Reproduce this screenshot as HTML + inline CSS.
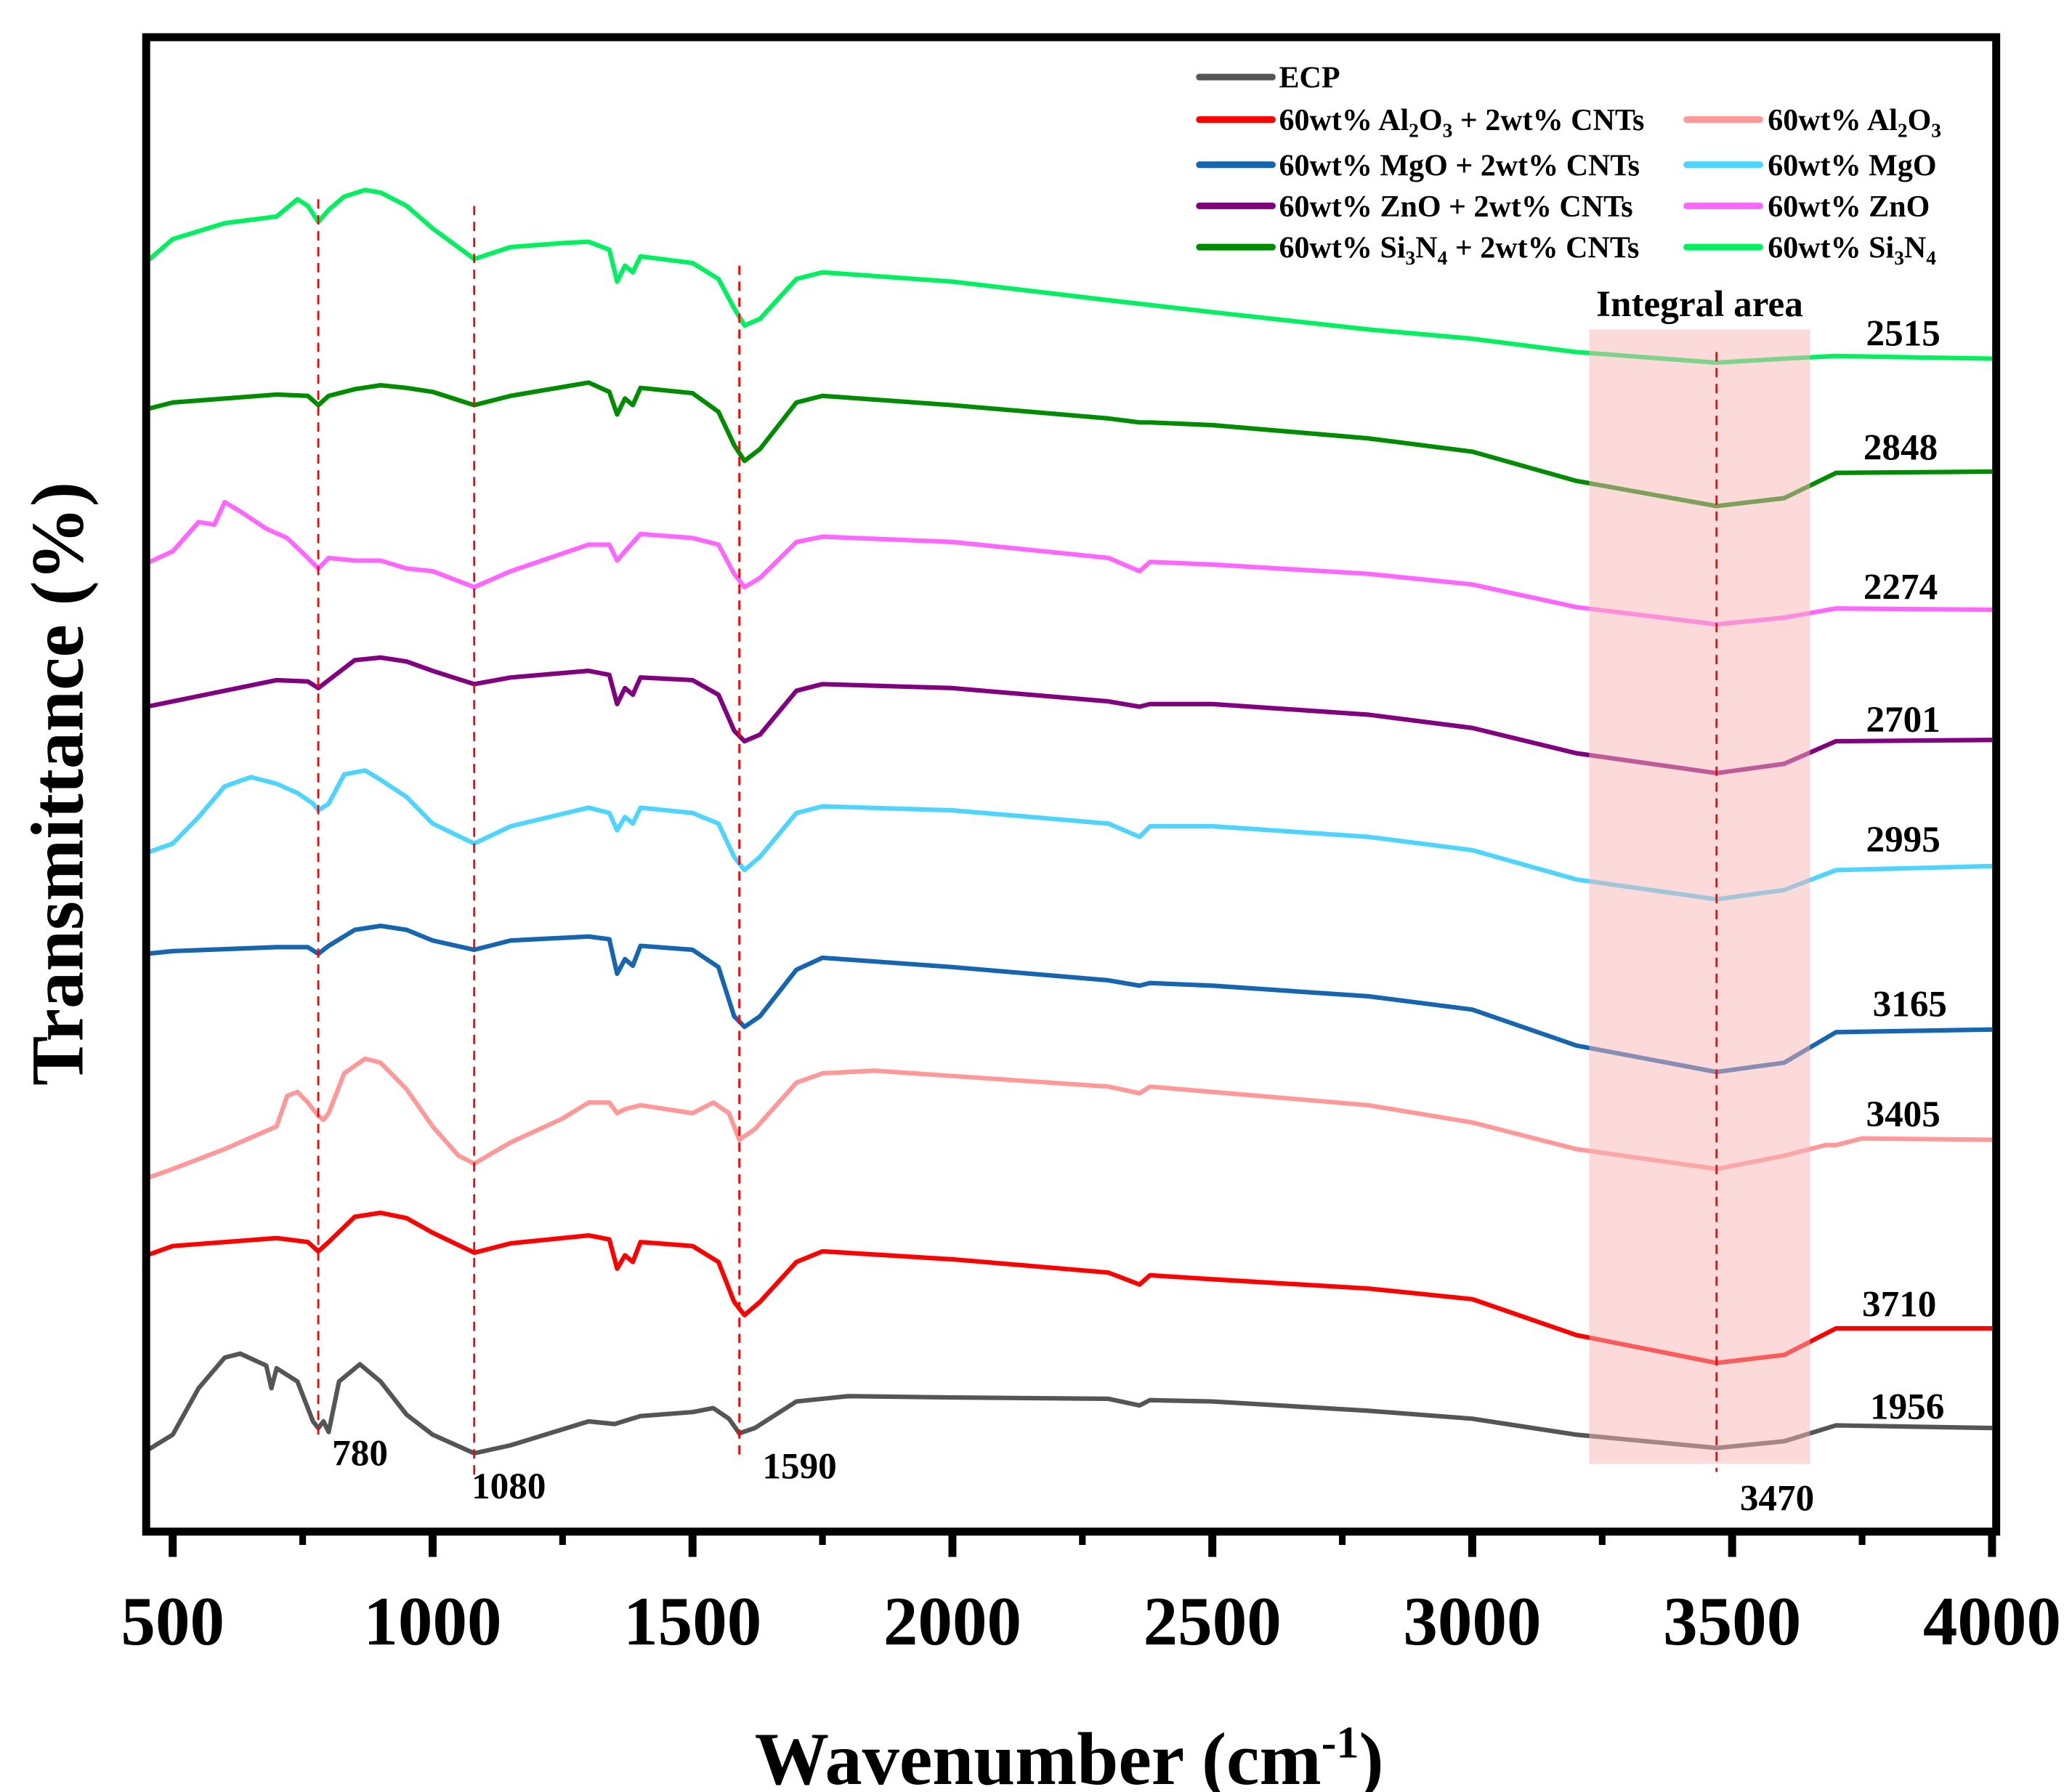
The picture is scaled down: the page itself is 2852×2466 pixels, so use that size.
<!DOCTYPE html>
<html><head><meta charset="utf-8"><style>
html,body{margin:0;padding:0;background:#fff}
svg{display:block}
text{font-family:"Liberation Serif",serif;font-weight:bold}
</style></head><body>
<svg id="chart" width="2852" height="2466" viewBox="0 0 1560 1349" xmlns="http://www.w3.org/2000/svg">
<g id="curves"></g>
<rect id="area" fill="#f9b5b5" fill-opacity="0.5"></rect>
<g id="dashes"></g>
<g id="labels"></g>
<rect x="110" y="28" width="1393" height="1125" fill="none" stroke="#000" stroke-width="6"/>
<g id="ticks"></g>
<text x="805" y="1343" text-anchor="middle" font-size="56">Wavenumber (cm<tspan dy="-20" font-size="34">-1</tspan><tspan dy="20">)</tspan></text>
<text transform="translate(62,590) rotate(-90)" text-anchor="middle" font-size="56">Transmittance (%)</text>
<g font-size="23">
<line x1="903" y1="58" x2="958" y2="58" stroke="#555" stroke-width="5" stroke-linecap="round"/><text x="963" y="66">ECP</text>
<line x1="903" y1="90" x2="958" y2="90" stroke="#f00" stroke-width="5" stroke-linecap="round"/><text x="963" y="98">60wt% Al<tspan dy="5" font-size="15">2</tspan><tspan dy="-5">O</tspan><tspan dy="5" font-size="15">3</tspan><tspan dy="-5"> + 2wt% CNTs</tspan></text>
<line x1="1270" y1="90" x2="1325" y2="90" stroke="#ff9999" stroke-width="5" stroke-linecap="round"/><text x="1331" y="98">60wt% Al<tspan dy="5" font-size="15">2</tspan><tspan dy="-5">O</tspan><tspan dy="5" font-size="15">3</tspan></text>
<line x1="903" y1="124" x2="958" y2="124" stroke="#1565b0" stroke-width="5" stroke-linecap="round"/><text x="963" y="132">60wt% MgO + 2wt% CNTs</text>
<line x1="1270" y1="124" x2="1325" y2="124" stroke="#4dd5ff" stroke-width="5" stroke-linecap="round"/><text x="1331" y="132">60wt% MgO</text>
<line x1="903" y1="155" x2="958" y2="155" stroke="#800080" stroke-width="5" stroke-linecap="round"/><text x="963" y="163">60wt% ZnO + 2wt% CNTs</text>
<line x1="1270" y1="155" x2="1325" y2="155" stroke="#ff66ff" stroke-width="5" stroke-linecap="round"/><text x="1331" y="163">60wt% ZnO</text>
<line x1="903" y1="186" x2="958" y2="186" stroke="#008c00" stroke-width="5" stroke-linecap="round"/><text x="963" y="194">60wt% Si<tspan dy="5" font-size="15">3</tspan><tspan dy="-5">N</tspan><tspan dy="5" font-size="15">4</tspan><tspan dy="-5"> + 2wt% CNTs</tspan></text>
<line x1="1270" y1="186" x2="1325" y2="186" stroke="#00f060" stroke-width="5" stroke-linecap="round"/><text x="1331" y="194">60wt% Si<tspan dy="5" font-size="15">3</tspan><tspan dy="-5">N</tspan><tspan dy="5" font-size="15">4</tspan></text>
</g>
</svg>
<script>
// wavenumber grids and transmittance values (arbitrary units, offset-stacked)
const wEcp=[450,500,550,600,630,680,690,700,740,770,780,790,800,820,860,900,950,1000,1080,1150,1200,1300,1350,1400,1500,1540,1570,1590,1620,1700,1800,2000,2300,2360,2380,2500,2800,3000,3200,3470,3600,3700,4000];
const tEcp=[61,73,108,131,134,125,108,123,113,83,78,83,75,113,126,113,88,73,59,65,71,83,81,87,90,93,85,74,78,98,102,101,100,95,99,98,91,85,73,63,68,80,78];
const wCnt=[450,500,700,760,780,800,850,900,950,1000,1080,1150,1300,1340,1355,1370,1385,1400,1500,1550,1580,1600,1630,1700,1750,2000,2300,2360,2380,2500,2800,3000,3200,3470,3600,3700,4000];
const tAlCnt=[208,215,221,218,211,218,237,240,236,225,210,217,223,220,198,208,203,218,215,203,173,163,173,203,211,205,195,186,193,190,183,175,148,127,133,153,153];
const tMgCnt=[435,437,440,440,435,441,453,456,453,445,438,445,448,446,420,431,426,441,438,425,388,380,388,423,432,425,415,411,413,411,403,393,366,346,353,376,378];
const tZnCnt=[621,625,641,640,635,641,656,658,655,648,638,643,648,645,623,635,630,643,641,630,603,595,600,633,638,635,625,621,623,623,615,605,586,571,578,595,596];
const tSiCnt=[845,850,856,855,848,855,860,863,861,858,848,855,865,858,841,853,848,861,857,843,818,806,815,850,855,848,838,835,835,833,823,813,791,772,778,797,798];
const wAl=[450,500,600,700,720,740,760,780,790,800,830,870,900,950,1000,1050,1080,1150,1250,1300,1340,1355,1370,1400,1450,1500,1540,1570,1590,1620,1700,1750,1850,2000,2300,2360,2380,2500,2800,3000,3200,3470,3600,3680,3700,3750,4000];
const tAl=[266,273,288,305,328,331,323,313,310,315,345,356,353,333,305,283,277,293,311,323,323,315,318,321,318,315,323,315,295,303,338,345,347,343,335,330,335,331,321,308,288,273,283,291,291,296,295];
const wMg=[450,500,550,600,650,700,740,770,780,800,830,870,900,950,1000,1080,1150,1300,1340,1355,1370,1385,1400,1500,1550,1580,1600,1630,1700,1750,2000,2300,2360,2380,2500,2800,3000,3200,3470,3600,3700,4000];
const tMg=[511,518,538,561,568,563,556,548,543,548,570,573,566,553,533,518,531,545,541,528,538,533,545,541,533,508,498,508,541,546,543,533,523,531,531,523,513,491,476,483,498,501];
const wZn=[450,500,550,580,600,630,680,720,760,780,800,850,900,950,1000,1080,1150,1300,1340,1355,1370,1400,1500,1550,1580,1600,1630,1700,1750,2000,2300,2360,2380,2500,2800,3000,3200,3470,3600,3700,4000];
const tZn=[729,738,760,758,775,768,755,748,733,725,733,731,731,725,723,711,723,743,743,731,738,751,748,743,721,711,718,745,749,745,733,723,730,728,721,713,696,683,688,695,694];
const wSi=[450,500,600,700,740,760,780,800,830,870,900,950,1000,1080,1150,1250,1300,1340,1355,1370,1385,1400,1500,1550,1580,1600,1630,1700,1750,2000,2300,2500,2800,3000,3200,3470,3600,3700,4000];
const tSi=[956,973,985,990,1003,998,986,995,1005,1010,1008,998,981,958,967,970,971,965,941,953,948,960,955,943,921,908,913,943,948,941,927,918,905,898,888,880,883,885,883];
const series=[
 {name:'ecp',w:wEcp,t:tEcp,c:'#555555',lab:'1956',lx:1408,ly:1068},
 {name:'al2o3-cnt',w:wCnt,t:tAlCnt,c:'#ff0000',lab:'3710',lx:1402,ly:991},
 {name:'al2o3',w:wAl,t:tAl,c:'#ff9999',lab:'3405',lx:1405,ly:848},
 {name:'mgo-cnt',w:wCnt,t:tMgCnt,c:'#1565b0',lab:'3165',lx:1410,ly:765},
 {name:'mgo',w:wMg,t:tMg,c:'#4dd5ff',lab:'2995',lx:1405,ly:641},
 {name:'zno-cnt',w:wCnt,t:tZnCnt,c:'#800080',lab:'2701',lx:1405,ly:551},
 {name:'zno',w:wZn,t:tZn,c:'#ff66ff',lab:'2274',lx:1403,ly:451},
 {name:'si3n4-cnt',w:wCnt,t:tSiCnt,c:'#008c00',lab:'2848',lx:1403,ly:346},
 {name:'si3n4',w:wSi,t:tSi,c:'#00f060',lab:'2515',lx:1405,ly:260}
];
const peaks=[780,1080,1590,3470];
const peakTop=[150,155,200,265];
const peakBot=[1080,1110,1100,1108];
const xTicks=[500,1000,1500,2000,2500,3000,3500,4000];
const xMinor=[750,1250,1750,2250,2750,3250,3750];
const band=[3225,3650];

const X0=110,X1=1503,V0=449,V1=4008;
function xs(v){return X0+(v-V0)*(X1-X0)/(V1-V0);}
function ys(t){return 1153-t;}
const NS='http://www.w3.org/2000/svg';
function mk(tag,parent,attrs){const e=document.createElementNS(NS,tag);for(const k in attrs)e.setAttribute(k,attrs[k]);parent.appendChild(e);return e;}

const cg=document.getElementById('curves'),lg=document.getElementById('labels');
series.forEach(s=>{
 const d=s.w.map((w,i)=>(i?'L':'M')+xs(Math.max(w,V0)).toFixed(1)+','+ys(s.t[i]).toFixed(1)).join('');
 const p=mk('path',cg,{d:d,fill:'none',stroke:s.c,'stroke-width':3.4,'stroke-linejoin':'round'});
 
 
 const t=mk('text',lg,{x:s.lx,y:s.ly,'font-size':28});
 
 
 t.textContent=s.lab;
});
const ar=document.getElementById('area');
ar.setAttribute('x',xs(band[0]));ar.setAttribute('width',xs(band[1])-xs(band[0]));
ar.setAttribute('y',248);ar.setAttribute('height',854);
const it=mk('text',lg,{x:(xs(band[0])+xs(band[1]))/2,y:238,'font-size':28,'text-anchor':'middle'});


it.textContent='Integral area';
const dg=document.getElementById('dashes');
const plx=[250,355,574,1310],ply=[1103,1128,1113,1137];
peaks.forEach((p,i)=>{
 const l=mk('line',dg,{x1:xs(p),x2:xs(p),y1:peakTop[i],y2:peakBot[i],stroke:'#ff0000','stroke-width':1.5,'stroke-dasharray':'7,5'});
 
 
 const t=mk('text',lg,{x:plx[i],y:ply[i],'font-size':28});
 if(i==3)t.setAttribute('font-weight','normal');
 
 
 t.textContent=String(p);
});
const tg=document.getElementById('ticks');
xTicks.forEach(v=>{
 const l=mk('line',tg,{x1:xs(v),x2:xs(v),y1:1153,y2:1172,stroke:'#000','stroke-width':6});
 
 
 const t=mk('text',tg,{x:xs(v),y:1238,'font-size':52,'text-anchor':'middle'});
 
 
 t.textContent=String(v);
});
xMinor.forEach(v=>{
 const l=mk('line',tg,{x1:xs(v),x2:xs(v),y1:1153,y2:1163,stroke:'#000','stroke-width':5});
 
 
});
</script>
</body></html>
